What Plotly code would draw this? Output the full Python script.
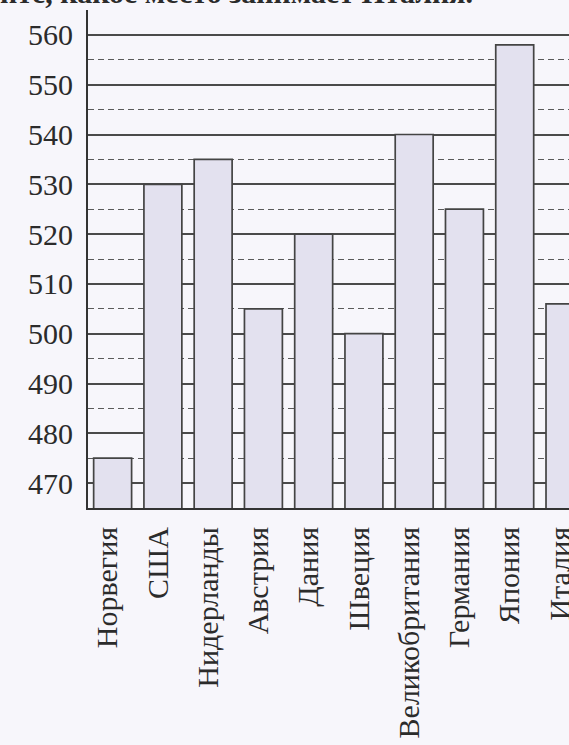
import plotly.graph_objects as go

countries = ["Норвегия", "США", "Нидерланды", "Австрия", "Дания",
             "Швеция", "Великобритания", "Германия", "Япония", "Италия"]
scores = [475, 530, 535, 505, 520, 500, 540, 525, 558, 506]
caption = "ите, какое место занимает Италия."

W, H = 569, 745
L, R, T, B = 88, 0, 10, 237
plot_w = W - L - R

positions = list(range(len(countries)))
label_offset = 0.1  # printed labels sit slightly left of bar centres

fig = go.Figure()
fig.add_trace(go.Bar(
    x=positions, y=scores, width=0.755,
    customdata=countries,
    hovertemplate="%{customdata}: %{y}<extra></extra>",
    marker=dict(color="#e3e1ef", line=dict(color="#444444", width=1.7)),
))

serif = "Liberation Serif"
fig.update_layout(
    width=W, height=H, autosize=False,
    margin=dict(l=L, r=R, t=T, b=B, pad=0, autoexpand=False),
    paper_bgcolor="#f7f6fb", plot_bgcolor="#f7f6fb",
    showlegend=False,
    font=dict(family=serif, color="#2b2b2b"),
    xaxis=dict(
        range=[-0.49, 9.08], automargin=False,
        tickmode="array",
        tickvals=[p - label_offset for p in positions],
        ticktext=countries,
        ticklabeloverflow="allow",
        showline=True, linecolor="#333333", linewidth=2,
        showgrid=False, zeroline=False, ticks="", tickangle=-90,
        tickfont=dict(family=serif, size=30, color="#2b2b2b"),
        ticklabelstandoff=5,
    ),
    yaxis=dict(
        range=[465, 565], dtick=10, tick0=0, automargin=False,
        showline=True, linecolor="#333333", linewidth=2,
        showgrid=True, gridcolor="#4a4a4a", gridwidth=1.6,
        zeroline=False, ticks="",
        tickfont=dict(family=serif, size=30, color="#2b2b2b"),
        ticklabelstandoff=7,
        minor=dict(dtick=5, tick0=0, showgrid=True, gridcolor="#5a5a5a",
                   gridwidth=1.3, griddash="6px,4px", ticks=""),
    ),
    annotations=[dict(
        text=caption, xref="paper", yref="paper",
        x=-L / plot_w, y=1, xanchor="left", yanchor="bottom",
        xshift=-2, yshift=-1, showarrow=False,
        font=dict(family=serif, size=30, color="#2b2b2b", weight="bold"),
    )],
)

fig.write_html("out.html",
               config={"displayModeBar": False, "responsive": False},
               post_script="document.body.style.margin='0';"
                           "document.body.style.overflow='hidden';")
